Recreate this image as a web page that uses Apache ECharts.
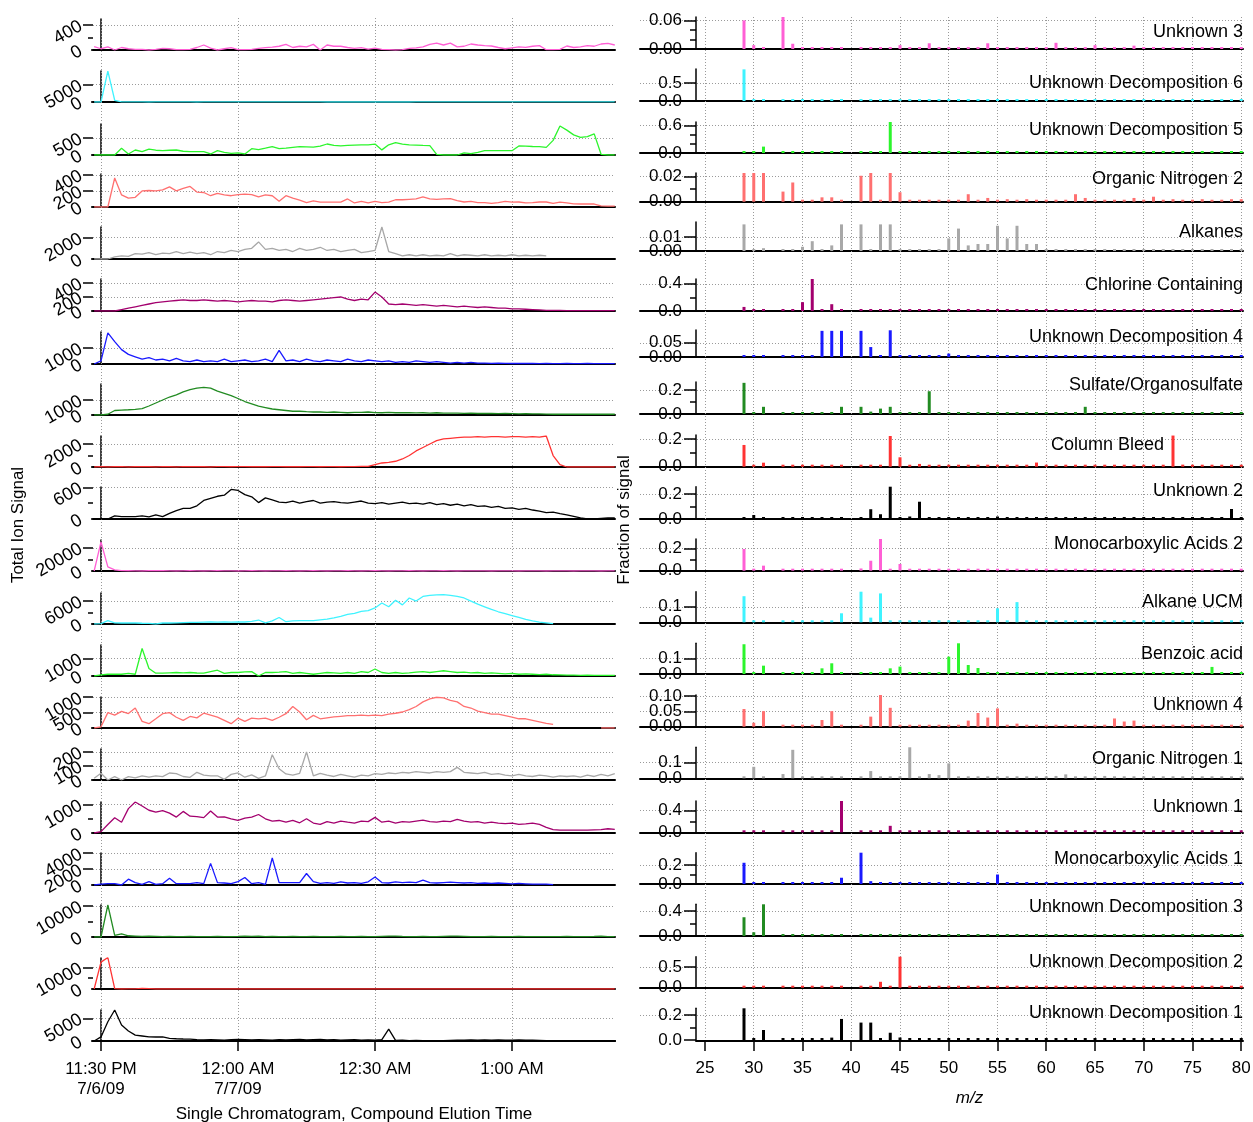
<!DOCTYPE html>
<html><head><meta charset="utf-8">
<script src="https://cdn.jsdelivr.net/npm/echarts@6/dist/echarts.min.js"></script>
<style>html,body{margin:0;padding:0;background:#fff}#c{width:1253px;height:1122px}</style>
</head><body><div id="c"></div><script>
const FONT = '"Liberation Sans", Arial, Helvetica, sans-serif';

// ---------- names & colours (top to bottom) ----------
const rowNames = ['Unknown 3','Unknown Decomposition 6','Unknown Decomposition 5','Organic Nitrogen 2','Alkanes',
  'Chlorine Containing','Unknown Decomposition 4','Sulfate/Organosulfate','Column Bleed','Unknown 2',
  'Monocarboxylic Acids 2','Alkane UCM','Benzoic acid','Unknown 4','Organic Nitrogen 1',
  'Unknown 1','Monocarboxylic Acids 1','Unknown Decomposition 3','Unknown Decomposition 2','Unknown Decomposition 1'];
const rowColors = ['#ff5fd5','#3ff3ff','#2cf52c','#ff7070','#a8a8a8','#a3006e','#1a1aff','#228b22','#ff3333','#000000',
  '#ff5fd5','#3ff3ff','#2cf52c','#ff7070','#a8a8a8','#a3006e','#1a1aff','#228b22','#ff3333','#000000'];

// ---------- chromatogram: minutes after 11:30 PM ----------
const timeMinutes = [-1.5,0,1.5,3,4.5,6,7.5,9,10.5,12,
  13.5,15,16.5,18,19.5,21,22.5,24,25.5,27,
  28.5,30,31.5,33,34.5,36,37.5,39,40.5,42,
  43.5,45,46.5,48,49.5,51,52.5,54,55.5,57,
  58.5,60,61.5,63,64.5,66,67.5,69,70.5,72,
  73.5,75,76.5,78,79.5,81,82.5,84,85.5,87,
  88.5,90,91.5,93,94.5,96,97.5,99,100.5,102,
  103.5,105,106.5,108,109.5,111,112.5];
const timeTickValues = [0,30,60,90];
const timeTickLabels = ['11:30 PM\n7/6/09','12:00 AM\n7/7/09','12:30 AM','1:00 AM'];

const ticUnknown3 = [53,20,50,0,40,20,10,10,0,10, 25,20,5,5,10,40,80,30,0,20, 37,5,5,10,25,37,45,60,90,40, 60,50,90,0,80,60,60,40,25,37, 15,30,10,5,0,5,25,35,50,90, 110,80,110,50,60,96,80,70,64,40, 20,35,50,43,60,70,5,5,10,64, 40,50,70,60,96,105,80];
const ticUD6 = [0,0,8900,500,60,40,50,40,0,40, 50,40,50,40,30,0,40,50,40,50, 40,50,40,30,40,50,40,50,40,40, 50,40,60,50,0,0,0,0,0,0, 0,0,0,0,0,0,0,40,50,40, 50,40,50,40,50,40,50,40,50,40, 50,40,60,40,50,60,50,40,50,40, 50,40,50,40,50,40,50];
const ticUD5 = [0,0,0,0,197,30,147,100,170,140, 126,140,147,110,97,100,97,30,126,80, 50,60,30,186,160,200,245,190,200,225, 245,240,230,260,323,280,270,280,290,300, 300,320,150,300,360,320,300,290,280,275, 20,0,0,0,60,40,80,126,126,126, 126,126,265,260,250,245,225,430,850,730, 590,520,540,620,20,0,0];
const ticOrgN2 = [0,0,0,360,150,110,120,200,205,200, 212,250,200,230,255,185,180,140,170,150, 140,155,160,155,125,150,140,70,140,110, 85,55,75,60,60,60,60,100,50,70, 50,70,55,60,90,90,95,100,125,100, 95,100,105,80,62,70,55,55,45,55, 70,60,62,50,55,62,62,45,60,50, 40,37,37,37,15,12,12];
const ticAlkanes = [0,0,0,200,300,250,500,450,600,400, 550,500,700,500,650,500,600,400,700,600, 800,700,900,1000,1600,900,1000,800,900,700, 1000,800,900,1100,800,900,700,800,900,600, 700,800,3000,700,500,300,400,300,400,300, 350,300,500,300,400,350,300,400,300,350, 300,400,300,350,300,350,300,null,null,null, null,null,null,null,null,null,null];
const ticChlorine = [0,0,0,0,20,40,60,80,100,120, 130,140,150,160,150,150,160,150,140,150, 140,130,140,150,140,140,130,150,160,150, 140,150,160,170,180,190,200,170,150,170, 160,270,200,100,90,100,90,80,90,80, 70,80,70,60,70,60,50,60,50,40, 40,30,30,25,20,15,10,10,10,5, 5,5,5,5,5,5,5];
const ticUD4 = [0,200,1950,1400,900,600,450,300,400,250, 300,200,350,200,150,250,150,200,150,300, 150,200,250,150,200,300,150,850,200,250, 150,300,200,150,250,200,150,300,200,150, 250,200,150,200,100,150,100,200,150,100, 150,100,50,100,50,100,50,50,40,50, 40,30,40,30,30,20,30,20,20,30, 20,20,30,20,20,20,20];
const ticSulfate = [0,0,50,300,330,350,380,430,600,800, 1000,1200,1350,1550,1700,1800,1850,1800,1600,1450, 1300,1100,900,750,600,500,400,350,300,250, 250,220,200,200,180,200,180,150,180,170, 200,160,150,180,150,160,150,140,150,130, 150,120,130,120,110,120,100,110,100,90, 100,90,80,90,80,70,60,50,50,50, 50,50,50,50,50,50,50];
const ticColumnBleed = [0,30,0,20,30,0,20,40,20,0, 30,20,0,30,20,40,20,0,30,40, 20,30,40,20,30,20,40,30,20,30, 20,40,30,20,30,40,20,30,40,50, 50,200,350,400,500,700,1000,1400,1700,2000, 2300,2450,2500,2550,2600,2600,2650,2600,2650,2650, 2600,2650,2650,2600,2650,2600,2700,1000,200,0, 0,0,0,0,0,0,0];
const ticUnknown2 = [0,0,0,60,44,44,44,60,40,80, 44,107,160,200,200,250,350,390,430,450, 560,540,460,420,310,400,360,320,310,340, 300,330,350,300,320,330,310,300,320,340, 300,290,310,280,300,320,290,300,280,310, 270,290,260,280,250,270,240,250,220,240, 200,210,180,200,170,150,120,130,100,80, 50,20,0,0,10,20,20];
const ticMCA2 = [0,25000,3600,1000,300,200,100,0,200,300, 200,100,0,100,200,100,0,100,200,100, 100,0,100,200,100,0,100,100,200,100, 0,100,200,100,0,100,100,200,100,0, 100,200,100,0,100,100,200,100,0,100, 100,200,100,0,100,100,100,100,0,100, 100,100,0,100,100,100,0,100,100,100, 0,100,100,100,0,100,100];
const ticAlkaneUCM = [0,100,870,300,260,260,260,200,150,0, 260,260,300,350,400,450,500,520,500,520, 500,520,520,700,1040,300,800,1700,600,800, 870,900,870,1100,1300,1600,2000,2500,2800,3300, 3500,4200,5500,4500,6200,5000,6800,6000,7200,7500, 7600,7700,7500,7200,6800,6000,5200,4500,3800,3200, 2700,2200,1700,1200,800,500,300,100,null,null, null,null,null,null,null,null,null];
const ticBenzoic = [0,60,100,100,100,150,100,1570,430,160, 160,180,200,180,200,170,160,250,330,150, 200,200,230,250,0,200,200,220,250,150, 200,150,100,150,200,180,150,200,150,250, 200,400,200,150,200,150,180,220,250,200, 250,300,250,200,220,180,200,150,180,150, 120,150,100,120,100,80,100,70,60,50, 50,40,50,40,30,30,30];
const ticUnknown4 = [0,40,500,420,540,470,650,215,140,300, 465,500,350,250,375,330,480,420,355,250, 140,320,215,320,300,320,250,350,465,700, 520,270,410,300,330,360,380,400,400,420, 400,420,400,450,480,520,600,700,850,950, 1000,980,900,850,700,650,550,500,450,450, 400,350,300,300,250,200,150,120,null,null, null,null,null,null,0,0,0];
const ticOrgN1 = [12,48,0,24,0,24,15,30,20,29, 24,50,45,25,19,55,35,29,30,5, 40,50,20,36,12,29,180,80,43,35, 48,200,30,48,35,25,40,30,20,35, 30,45,40,50,45,55,50,60,55,50, 60,55,60,90,55,50,45,55,40,45, 35,30,40,30,25,35,30,20,30,25, 30,20,35,25,40,30,45];
const ticUnknown1 = [0,50,300,535,380,857,1090,950,800,735, 790,700,560,760,590,575,540,775,560,570, 500,440,520,560,650,500,420,440,380,440, 360,500,350,300,400,350,420,380,350,420, 400,550,380,420,350,400,380,420,450,400, 380,420,400,480,420,380,400,350,380,350, 330,350,300,320,350,300,200,120,100,100, 100,100,100,110,120,150,130];
const ticMCA1 = [0,100,170,170,0,730,300,85,425,85, 170,850,170,170,170,300,170,2720,300,250, 170,425,940,170,300,85,3400,300,300,300, 300,1450,425,200,300,200,400,250,300,200, 400,1000,300,250,400,300,350,300,600,300, 250,300,350,300,250,300,200,250,200,250, 200,150,200,150,100,100,100,50,null,null, null,null,null,null,null,null,null];
const ticUD3 = [0,0,10300,500,1000,400,300,200,300,200, 100,200,150,100,200,100,150,100,200,100, 150,200,300,200,250,150,200,100,150,200, 100,150,200,100,150,100,200,150,100,200, 150,100,200,250,300,200,150,100,200,150, 100,200,300,250,200,150,100,150,200,100, 150,100,200,150,100,150,100,150,100,200, 100,150,100,200,300,150,100];
const ticUD2 = [0,12400,14500,200,0,50,100,300,200,0, 0,50,0,0,50,0,0,0,50,0, 0,0,50,0,0,0,0,50,0,0, 0,0,0,50,0,0,0,0,0,50, 0,0,0,0,0,0,0,0,50,0, 0,0,0,0,0,50,0,0,0,0, 0,0,50,0,0,0,0,0,0,0, 0,0,0,0,0,0,0];
const ticUD1 = [0,900,4250,6830,3520,2200,1300,1100,900,880, 900,590,500,440,400,300,220,300,250,200, 300,350,300,250,300,250,200,300,250,300, 350,250,300,350,250,300,200,250,300,200, 250,200,300,2600,150,200,100,150,100,50, 50,100,150,200,200,250,200,250,200,250, 200,200,250,200,200,150,100,50,0,0, 0,0,0,0,0,0,0];

const ticSeries = [ticUnknown3,ticUD6,ticUD5,ticOrgN2,ticAlkanes,ticChlorine,ticUD4,ticSulfate,ticColumnBleed,ticUnknown2,
  ticMCA2,ticAlkaneUCM,ticBenzoic,ticUnknown4,ticOrgN1,ticUnknown1,ticMCA1,ticUD3,ticUD2,ticUD1];
const ticYMax = [496,8950,910,410,3000,457,2000,2070,2700,605,26700,8100,1770,1008,221,1090,4030,10300,14300,6830];
const ticMajorTicks = [[0,400],[0,5000],[0,500],[0,200,400],[0,2000],[0,200,400],[0,1000],[0,1000],[0,2000],[0,600],
  [0,20000],[0,6000],[0,1000],[0,500,1000],[0,100,200],[0,1000],[0,2000,4000],[0,10000],[0,10000],[0,5000]];
const ticMinorTicks = [[200],[],[],[],[],[],[],[],[1000],[300],[10000],[3000],[],[],[],[500],[],[5000],[5000],[]];

// ---------- mass spectra ----------
const mzValues = [29,30,31,33,34,35,36,37,38,39, 41,42,43,44,45,46,47,48,49,50, 51,52,53,54,55,56,57,58,59,60, 61,62,63,64,65,66,67,68,69,70, 71,72,73,74,75,76,77,78,79,80];
const mzTickValues = [25,30,35,40,45,50,55,60,65,70,75,80];
const specUnknown3 = [0.060,0.008,0,0.067,0.011,0,0,0.004,0,0, 0.003,0,0,0,0.008,0,0,0.012,0,0, 0,0,0,0.012,0,0.004,0,0,0,0.004, 0.013,0,0,0,0.008,0.003,0.003,0,0.007,0.004, 0,0,0,0,0,0,0,0,0.004,0];
const specUD6 = [0.89,0.01,0,0,0,0,0,0,0,0.005, 0,0,0,0,0,0,0,0,0,0, 0,0,0,0,0,0,0,0,0,0, 0,0,0,0,0,0,0,0,0,0, 0,0,0,0,0,0,0,0,0,0];
const specUD5 = [0.005,0,0.14,0,0,0,0,0,0,0, 0,0,0,0.68,0.01,0,0,0,0,0, 0,0,0,0,0,0,0,0,0,0, 0,0,0,0,0,0,0,0,0,0, 0,0,0,0,0,0,0,0,0,0];
const specOrgN2 = [0.023,0.023,0.023,0.0081,0.0154,0,0,0.0035,0.0035,0, 0.0208,0.023,0,0.023,0.0076,0,0,0,0,0, 0,0.006,0,0.003,0,0.002,0,0.002,0,0, 0,0,0.006,0.003,0,0,0,0,0.003,0, 0.004,0,0.002,0,0,0.002,0,0,0.002,0.002];
const specAlkanes = [0.019,0,0.002,0,0,0.003,0.007,0,0.004,0.019, 0.019,0,0.019,0.019,0,0,0,0,0,0.009, 0.016,0.004,0.005,0.005,0.018,0.009,0.018,0.005,0.005,0, 0,0,0,0,0,0,0,0,0,0, 0,0,0,0,0,0,0,0,0,0];
const specChlorine = [0.06,0,0,0,0,0.13,0.47,0,0.1,0, 0,0,0,0,0,0,0,0,0,0, 0,0,0,0,0,0,0,0,0,0, 0,0,0,0,0,0,0,0,0,0, 0,0,0,0,0,0,0,0,0,0];
const specUD4 = [0,0,0,0.003,0,0,0.004,0.092,0.092,0.092, 0.092,0.035,0,0.094,0,0,0,0,0,0.012, 0,0.004,0,0,0,0,0,0,0,0.003, 0,0,0,0,0,0,0,0,0,0, 0,0,0,0,0,0,0,0,0,0];
const specSulfate = [0.26,0,0.06,0,0,0,0,0,0,0.06, 0.06,0.02,0.045,0.06,0,0,0,0.19,0,0, 0,0,0,0,0,0,0,0,0,0, 0,0,0,0.06,0,0,0,0,0,0, 0,0,0,0,0,0,0,0,0,0];
const specColumnBleed = [0.157,0.005,0.029,0,0,0,0,0,0,0, 0.008,0,0,0.222,0.068,0.008,0.02,0,0,0, 0.01,0,0,0,0,0,0,0,0.03,0, 0,0,0,0,0,0,0,0,0,0, 0,0,0.225,0.015,0.008,0,0,0,0,0];
const specUnknown2 = [0.01,0.032,0,0,0,0,0.008,0,0.008,0, 0,0.078,0.038,0.258,0,0.02,0.138,0,0.008,0, 0,0,0,0,0.02,0,0,0,0,0, 0,0,0,0,0,0,0,0,0,0, 0,0,0,0,0,0,0,0,0.08,0];
const specMCA2 = [0.194,0,0.045,0,0,0,0,0,0,0, 0.02,0.089,0.283,0,0.06,0,0,0,0,0, 0,0,0,0,0,0,0,0,0,0.012, 0,0,0,0,0,0,0,0,0,0, 0,0,0,0,0,0,0,0,0,0];
const specAlkaneUCM = [0.168,0,0,0,0,0,0,0,0,0.058, 0.197,0.03,0.186,0.008,0,0,0,0,0,0, 0,0,0,0,0.09,0.01,0.13,0,0,0, 0,0,0,0,0,0,0,0,0,0, 0,0,0,0,0,0,0,0,0,0];
const specBenzoic = [0.189,0,0.053,0,0,0,0,0.036,0.068,0, 0,0,0,0.036,0.047,0,0,0,0.006,0.11, 0.195,0.057,0.038,0,0,0,0,0,0,0, 0,0,0,0,0,0,0,0,0,0, 0,0,0,0,0,0,0.045,0,0,0];
const specUnknown4 = [0.058,0.013,0.051,0,0,0,0,0.022,0.051,0, 0,0.033,0.104,0.062,0,0,0,0,0,0, 0,0.02,0.045,0.03,0.06,0,0.01,0,0,0, 0,0,0,0,0,0,0.027,0.017,0.02,0, 0,0,0,0,0,0,0,0,0,0];
const specOrgN1 = [0,0.073,0,0.027,0.181,0.005,0,0,0,0, 0,0.046,0,0,0,0.197,0.01,0.027,0.02,0.095, 0,0,0,0,0,0,0.008,0.01,0,0, 0.015,0.025,0.01,0,0,0.015,0,0,0,0, 0,0,0,0,0,0,0,0,0,0];
const specUnknown1 = [0,0,0,0,0,0,0,0,0.01,0.58, 0.01,0,0,0.12,0,0,0,0,0,0, 0,0,0,0,0,0,0,0,0,0.01, 0,0,0,0,0,0,0,0,0,0, 0,0,0,0,0,0,0,0,0,0];
const specMCA1 = [0.224,0.01,0,0,0,0,0,0,0,0.066, 0.33,0.03,0,0.02,0,0,0,0,0,0, 0,0,0,0,0.1,0,0,0,0,0.02, 0,0,0,0,0,0,0,0,0,0, 0,0,0,0,0,0,0,0,0,0];
const specUD3 = [0.3,0.06,0.507,0,0,0,0,0,0,0, 0,0,0,0,0,0,0,0,0,0, 0,0,0,0,0,0,0,0,0,0, 0,0,0,0,0,0,0,0,0,0, 0,0,0,0,0,0,0,0,0,0];
const specUD2 = [0,0,0,0,0,0,0,0,0,0, 0,0,0.143,0.048,0.75,0.01,0,0,0,0, 0,0,0,0,0,0,0,0,0,0, 0,0,0,0,0,0,0,0,0,0, 0,0,0,0,0,0,0,0,0,0];
const specUD1 = [0.253,0.013,0.08,0,0,0,0,0.005,0.019,0.168, 0.139,0.139,0,0.058,0.02,0,0,0,0,0, 0.005,0,0.008,0,0.005,0,0,0,0,0, 0,0,0,0,0,0,0,0,0,0, 0,0,0,0,0,0,0,0,0,0];

const specSeries = [specUnknown3,specUD6,specUD5,specOrgN2,specAlkanes,specChlorine,specUD4,specSulfate,specColumnBleed,specUnknown2,
  specMCA2,specAlkaneUCM,specBenzoic,specUnknown4,specOrgN1,specUnknown1,specMCA1,specUD3,specUD2,specUD1];
const specYMax = [0.067,0.9,0.68,0.023,0.0207,0.47,0.095,0.267,0.229,0.258,0.283,0.197,0.195,0.104,0.197,0.58,0.33,0.507,0.75,0.253];
const specMajorTicks = [[0,0.06],[0,0.5],[0,0.6],[0,0.02],[0,0.01],[0,0.4],[0,0.05],[0,0.2],[0,0.2],[0,0.2],
  [0,0.2],[0,0.1],[0,0.1],[0,0.05,0.1],[0,0.1],[0,0.4],[0,0.2],[0,0.4],[0,0.5],[0,0.2]];
const specMinorTicks = [[0.02,0.04],[],[0.2,0.4],[0.01],[],[0.2],[],[0.1],[0.1],[0.1],[0.1],[],[],[],[],[0.2],[0.1],[0.2],[],[0.1]];
const specDecimals = [2,1,1,2,2,1,2,1,1,1,1,1,1,2,1,1,1,1,1,1];

// ---------- layout (pixels) ----------
const leftBase = [50,102,155,207,259,311,364,415,467,519,571,624,676,728,780,833,885,937,989,1041];
const leftTop  = [19,71,124,174,227,279,332,384,436,487,540,593,645,697,749,802,853,905,958,1010];
const rightBase = [49,101,153,201.7,251,311,357,414,466.7,519,570.7,622.3,674,726.7,778.3,832.3,884,936,987.7,1040];
const rightTop  = [17,69,122,173,222,279,330,382,435,486.7,539,591.7,643.3,695,747.3,801,852.7,904.3,956.7,1008.3];
const labelCenterY = [30,81,128,177,230,283,335,383,443,489,542,600,652,703,757,805,857,905,960,1011];
const W = 1253, H = 1122;
const TIME_MIN = -1.752, TIME_MAX = 112.55;
const MZ_ROW_MIN = 18.333, MZ_BG_MIN = 24.077, MZ_MAX = 80.18;

const option = {animation:false, backgroundColor:'#fff', textStyle:{fontFamily:FONT},
  grid:[], xAxis:[], yAxis:[], series:[], title:[], graphic:[]};
const dotted = {color:'#9a9a9a', width:1, type:[1,2]};
const tickStyle = {color:'#000', width:1.5};
function addGrid(g){ option.grid.push(Object.assign({containLabel:false, outerBoundsMode:'none', show:false}, g)); return option.grid.length-1; }
function addX(a){ option.xAxis.push(a); return option.xAxis.length-1; }
function addY(a){ option.yAxis.push(a); return option.yAxis.length-1; }

// one y axis per labelled tick (so no label is auto-hidden), plus one for minor ticks
function addRowYAxes(g, yMax, majors, minors, offset, tickLen, minorLen, labelStyle, fmt){
  let mainIdx = -1;
  majors.forEach((v, k) => {
    const yi = addY({gridIndex:g, type:'value', position:'left', offset, min:0, max:yMax,
      axisLine:{show:k===0, lineStyle:tickStyle},
      axisTick:{show:true, customValues:[v], length:tickLen, lineStyle:tickStyle},
      axisLabel:Object.assign({customValues:[v], margin:tickLen+2, color:'#000', fontFamily:FONT, formatter:fmt}, labelStyle),
      splitLine:{show:v!==0, lineStyle:dotted}});
    if (k===0) mainIdx = yi;
  });
  if (minors.length) addY({gridIndex:g, type:'value', position:'left', offset, min:0, max:yMax,
    axisLine:{show:false}, axisTick:{show:true, customValues:minors, length:minorLen, lineStyle:tickStyle},
    axisLabel:{show:false}, splitLine:{show:false}});
  return mainIdx;
}

// background grids: vertical dotted lines and bottom axes
{
  const g = addGrid({left:93, right:W-615, top:18, bottom:H-1041});
  addX({gridIndex:g, type:'value', position:'bottom', min:TIME_MIN, max:TIME_MAX, z:1,
    axisLine:{show:true, onZero:false, lineStyle:{color:'#000', width:2}},
    axisTick:{show:true, customValues:timeTickValues, length:10, lineStyle:tickStyle},
    axisLabel:{customValues:timeTickValues, color:'#000', fontSize:17, lineHeight:20, margin:18, fontFamily:FONT,
      formatter:v=>timeTickLabels[timeTickValues.indexOf(v)] || ''},
    splitLine:{show:true, lineStyle:dotted},
    name:'Single Chromatogram, Compound Elution Time', nameLocation:'middle', nameGap:65,
    nameTextStyle:{color:'#000', fontSize:17, fontFamily:FONT}});
  addY({gridIndex:g, type:'value', min:0, max:1, show:false});
}
{
  const g = addGrid({left:696, right:W-1243, top:17, bottom:H-1041});
  addX({gridIndex:g, type:'value', position:'bottom', min:MZ_BG_MIN, max:MZ_MAX, z:1,
    axisLine:{show:true, onZero:false, lineStyle:{color:'#000', width:2}},
    axisTick:{show:true, customValues:mzTickValues, length:10, lineStyle:tickStyle},
    axisLabel:{customValues:mzTickValues, color:'#000', fontSize:17, margin:19, fontFamily:FONT},
    splitLine:{show:true, lineStyle:dotted},
    name:'m/z', nameLocation:'middle', nameGap:49,
    nameTextStyle:{color:'#000', fontSize:17, fontStyle:'italic', fontFamily:FONT}});
  addY({gridIndex:g, type:'value', min:0, max:1, show:false});
}

// chromatogram rows
for (let r=0; r<20; r++){
  const g = addGrid({left:93, right:W-615, top:leftTop[r], height:leftBase[r]-leftTop[r]});
  const xi = addX({gridIndex:g, type:'value', position:'bottom', min:TIME_MIN, max:TIME_MAX,
    axisLine:{show:true, onZero:true, lineStyle:{color:'#000', width:2}},
    axisTick:{show:false}, axisLabel:{show:false}, splitLine:{show:false}});
  const yi = addRowYAxes(g, ticYMax[r], ticMajorTicks[r], ticMinorTicks[r], 0, 10, 5,
    {rotate:30, fontSize:18}, v=>String(v));
  option.series.push({type:'line', xAxisIndex:xi, yAxisIndex:yi, silent:true, showSymbol:false, symbol:'none',
    connectNulls:false, z:3, lineStyle:{color:rowColors[r], width:1.3}, itemStyle:{color:rowColors[r]},
    data: timeMinutes.map((t,k)=>[t, ticSeries[r][k]])});
}

// spectrum rows
for (let r=0; r<20; r++){
  const g = addGrid({left:640, right:W-1243, top:rightTop[r], height:rightBase[r]-rightTop[r]});
  const xi = addX({gridIndex:g, type:'value', position:'bottom', min:MZ_ROW_MIN, max:MZ_MAX,
    axisLine:{show:r<19, onZero:true, lineStyle:{color:'#000', width:2}},
    axisTick:{show:false}, axisLabel:{show:false}, splitLine:{show:false}});
  const dec = specDecimals[r];
  const yi = addRowYAxes(g, specYMax[r], specMajorTicks[r], specMinorTicks[r], -56, 12, 6,
    {fontSize:17}, v=>Number(v).toFixed(dec));
  option.series.push({type:'bar', xAxisIndex:xi, yAxisIndex:yi, silent:true, barWidth:3, barMinHeight:2, z:3,
    itemStyle:{color:rowColors[r]}, data: mzValues.map((m,k)=>[m, specSeries[r][k]])});
  const t = {text:rowNames[r], top:labelCenterY[r]-7, padding:0,
    textStyle:{fontSize:18, fontWeight:'normal', color:'#000', fontFamily:FONT}};
  if (rowNames[r]==='Column Bleed') t.right = W-1164; else t.right = W-1243;
  option.title.push(t);
}

option.graphic = [
  {type:'text', x:18, y:525, rotation:Math.PI/2, style:{text:'Total Ion Signal', fontSize:17, fill:'#000', fontFamily:FONT, textAlign:'center', textVerticalAlign:'middle'}},
  {type:'text', x:624, y:520, rotation:Math.PI/2, style:{text:'Fraction of signal', fontSize:17, fill:'#000', fontFamily:FONT, textAlign:'center', textVerticalAlign:'middle'}}
];

const chart = echarts.init(document.getElementById('c'), null, {renderer:'canvas', width:W, height:H});
chart.setOption(option);
</script></body></html>
